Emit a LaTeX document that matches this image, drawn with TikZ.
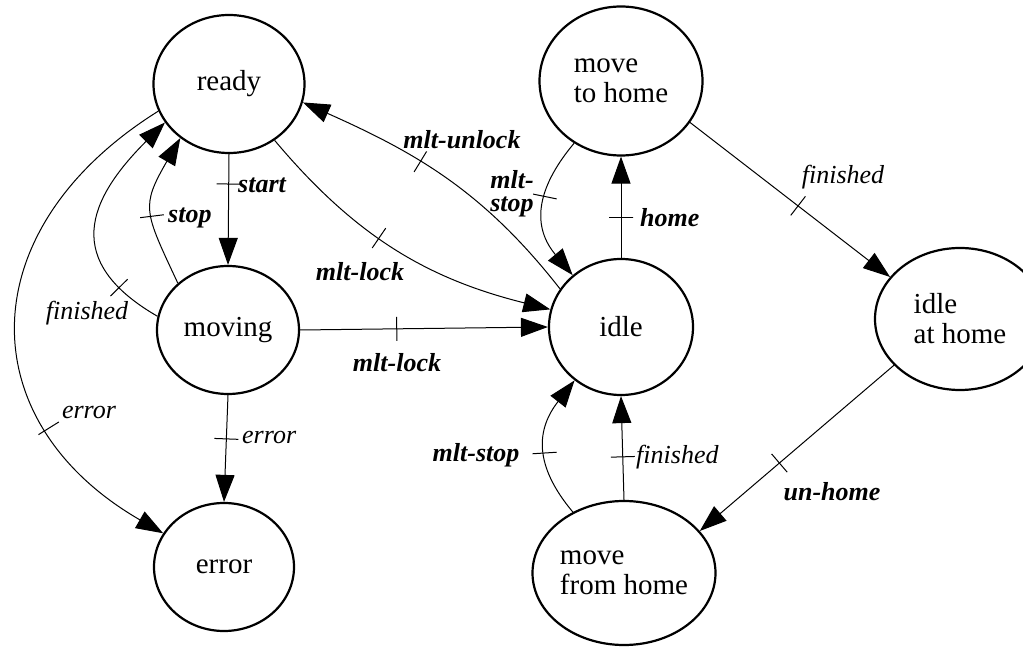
\documentclass[tikz,border=0pt]{standalone}
\usepackage{fontspec}
\setmainfont{Liberation Serif}
\usetikzlibrary{shapes.geometric,arrows.meta}
\begin{document}
\begin{tikzpicture}[x=1pt,y=1pt,
  state/.style={ellipse, draw, line width=2.2pt, inner sep=0pt, font=\fontsize{29}{30}\selectfont, align=left},
  conn/.style={line width=1pt, -{Triangle[length=27pt,width=19pt]}},
  tick/.style={draw, sloped, rectangle, minimum width=0pt, minimum height=24pt, inner sep=0pt, line width=1pt},
  lb/.style={font=\fontsize{26}{23.5}\selectfont\bfseries\itshape, inner sep=0pt, align=right},
  li/.style={font=\fontsize{26}{23.5}\selectfont\itshape, inner sep=0pt}]
\useasboundingbox (0,0) rectangle (1023,646);
% states
\node[state, minimum width=151pt, minimum height=138pt] (ready) at (229,562) {ready};
\node[state, minimum width=142pt, minimum height=128pt] (moving) at (228,316) {moving};
\node[state, minimum width=140pt, minimum height=128pt] (error) at (224,79) {error};
\node[state, minimum width=144pt, minimum height=136pt] (idle) at (621,319) {idle};
\node[state, minimum width=163pt, minimum height=149pt] (mth) at (621,565) {move\\to home};
\node[state, minimum width=170pt, minimum height=142pt] (iah) at (960,327) {idle\\at home};
\node[state, minimum width=183pt, minimum height=144pt] (mfh) at (624,73) {move\\from home};
% transitions
\draw[conn] (ready.south) -- node[tick, pos=.27]{} (moving.north);
\node[lb, anchor=west] (lstart) at (238,461) {start};

\draw[conn] (moving.137) to[out=115, in=240, looseness=1.4] node[tick, pos=.44]{} (ready.228);
\node[lb, anchor=west] (lstop) at (168,428) {stop};

\draw[conn] (moving.169) to[out=150, in=225, looseness=1.45] node[tick, pos=.17]{} (ready.211);
\node[li] (lfin1) at (87,333) {finished};

\draw[conn] (ready.201) to[out=212, in=150, looseness=1.35] node[tick, pos=.73]{} (error.151);
\node[li] (lerr1) at (89,233) {error};

\draw[conn] (moving.south) -- node[tick, pos=.41]{} (error.north);
\node[li, anchor=west] (lerr2) at (242,208) {error};

\draw[conn] (moving.east) -- node[tick, pos=.39]{} (idle.west);
\node[lb] (llock1) at (397,283) {mlt-lock};

\draw[conn] (ready.309) to[out=-50, in=166] node[tick, pos=.43]{} (idle.166);
\node[lb] (llock2) at (360,374) {mlt-lock};

\draw[conn] (idle.148) to[out=128, in=336] node[tick, pos=.6]{} (ready.346);
\node[lb] (lunlock) at (462,506) {mlt-unlock};

\draw[conn] (mth.233) to[out=230, in=130, looseness=1.2] node[tick, pos=.4]{} (idle.133);
\node[lb] (lstop2) at (512,452) {mlt-\\stop};

\draw[conn] (idle.north) -- node[tick, pos=.4]{} (mth.south);
\node[lb, anchor=west] (lhome) at (640,428) {home};

\draw[conn] (mth.-31) -- node[tick, pos=.54]{} (iah.149);
\node[li] (lfin2) at (843,469) {finished};

\draw[conn] (iah.215) -- node[tick, pos=.59]{} (mfh.29);
\node[lb] (lunhome) at (832,154) {un-home};

\draw[conn] (mfh.north) -- node[tick, pos=.415]{} (idle.south);
\node[li, anchor=west] (lfin3) at (636,189) {finished};

\draw[conn] (mfh.130) to[out=130, in=232, looseness=1.2] node[tick, pos=.45]{} (idle.229);
\node[lb] (lstop3) at (476,191) {mlt-stop};
\end{tikzpicture}
\end{document}
